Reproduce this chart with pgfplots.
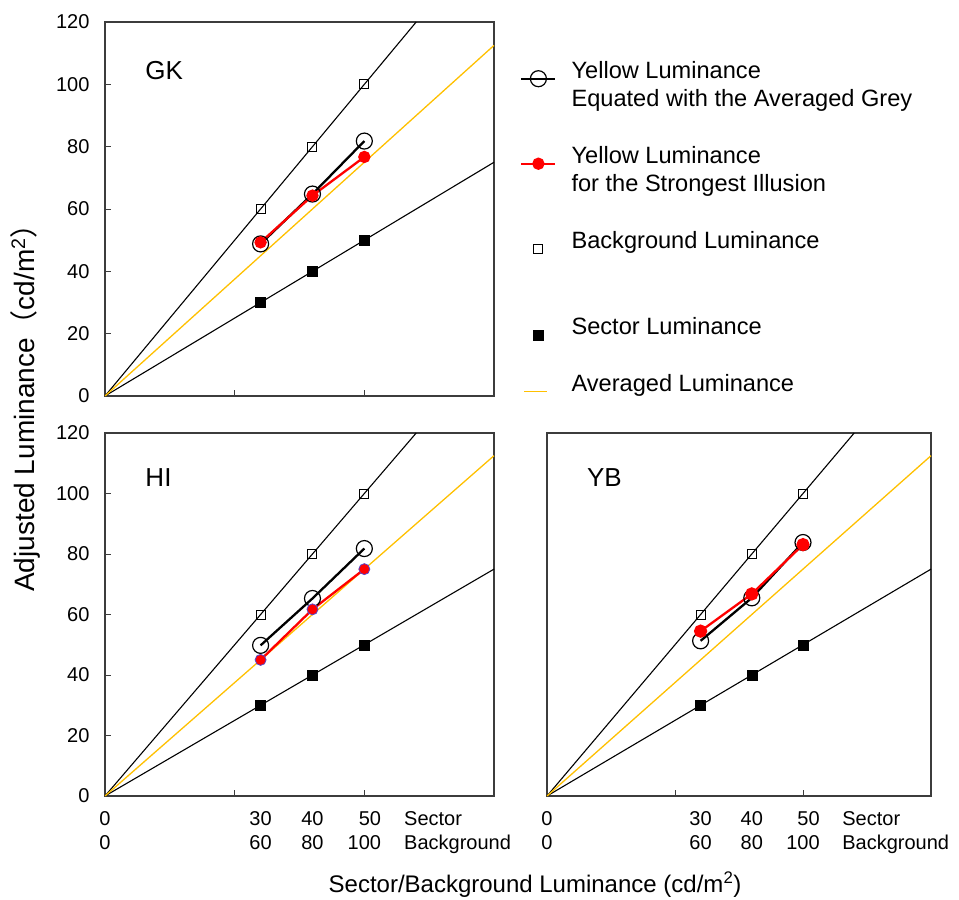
\documentclass[border=0pt]{standalone}
\usepackage{fontspec}
\setmainfont{Liberation Sans}
\newfontfamily\cjk{Noto Sans CJK SC}
\usepackage{pgfplots}
\pgfplotsset{compat=1.18}
\definecolor{avgY}{RGB}{255,192,0}
\definecolor{hiEdge}{RGB}{90,70,200}
\definecolor{axgray}{RGB}{60,60,60}

\pgfplotsset{
  panel/.style={
    scale only axis,
    xmin=0, xmax=75, ymin=0, ymax=120,
    axis line style={line width=1.2pt, axgray},
    tick style={axgray, line width=1pt},
    major tick length=6pt,
    tick align=inside,
    ytick={0,20,40,60,80,100,120},
    xtick={25,50,75}, xticklabels={},
    xtick pos=bottom, ytick pos=left,
    yticklabel style={font=\fontsize{20}{24}\selectfont, xshift=-12pt},
    /pgf/number format/assume math mode=true,
    clip=false,
    legend image code/.code={\draw[mark repeat=2,mark phase=2,##1] plot coordinates {(0pt,0pt)(17pt,0pt)(34pt,0pt)};},
  },
  xlabs/.style={
    extra x ticks={0,30,40,50},
    extra x tick labels={0\\0, 30\\60, 40\\80, 50\\100},
    extra x tick style={major tick length=0pt,
      tick label style={align=right, font=\fontsize{20}{24}\selectfont, yshift=-12pt}},
  },
  avglegend/.style={legend image code/.code={\draw[##1] (3pt,0pt) -- (26pt,0pt);}},
  refline/.style={black, line width=1.1pt, no marks, forget plot},
  avgline/.style={avgY, line width=1.3pt, no marks},
  eqser/.style={black, line width=2.3pt, mark=o, mark size=8pt, mark options={line width=1.2pt, fill=none}},
  redser/.style={red, line width=2.3pt, mark=*, mark size=5pt, mark options={fill=red, draw=red}},
  bgsq/.style={only marks, mark=square, mark size=4.5pt, mark options={black, line width=1pt, fill=none}},
  secsq/.style={only marks, mark=square*, mark size=5pt, mark options={black, fill=black}},
}

\newcommand{\sectorlabel}{\node[anchor=north west, align=left, font=\fontsize{20}{24}\selectfont, yshift=-12pt] at (rel axis cs:0.76,0) {Sector\\Background};}

\begin{document}
\begin{tikzpicture}
\path[use as bounding box] (0,0) rectangle (959pt,-900pt);

% ---------------- GK ----------------
\begin{axis}[panel, at={(105pt,-396pt)}, anchor=south west, width=389pt, height=374pt,
  legend style={at={(rel axis cs:1.067,0.900)}, anchor=north west, draw=none, fill=none,
    inner sep=0pt, row sep=0pt, column sep=13pt,
    font=\fontsize{23.6}{28}\selectfont, cells={anchor=base west}, nodes={text depth=}},
]
\addplot[refline] coordinates {(0,0) (60,120)};
\addplot[refline] coordinates {(0,0) (75,75)};
\addplot[eqser] coordinates {(30,48.8) (40,64.8) (50,81.8)};
\addlegendentry{\parbox[t][81pt][t]{390pt}{Yellow Luminance\\Equated with the Averaged Grey}}
\addplot[redser] coordinates {(30,49.3) (40,64.3) (50,76.7)};
\addlegendentry{\parbox[t][81pt][t]{390pt}{Yellow Luminance\\for the Strongest Illusion}}
\addplot[bgsq] coordinates {(30,60) (40,80) (50,100)};
\addlegendentry{\parbox[t][82pt][t]{390pt}{Background Luminance}}
\addplot[secsq] coordinates {(30,30) (40,40) (50,50)};
\addlegendentry{\parbox[t][53pt][t]{390pt}{Sector Luminance}}
\addplot[avgline, avglegend] coordinates {(0,0) (75,112.5)};
\addlegendentry{\parbox[t][28pt][t]{390pt}{Averaged Luminance}}
\node[anchor=west, font=\fontsize{26}{30}\selectfont] at (rel axis cs:0.095,0.87) {GK};
\end{axis}

% ---------------- HI ----------------
\begin{axis}[panel, xlabs, at={(105pt,-796pt)}, anchor=south west, width=389pt, height=363pt]
\addplot[refline] coordinates {(0,0) (60,120)};
\addplot[refline] coordinates {(0,0) (75,75)};
\addplot[avgline] coordinates {(0,0) (75,112.5)};
\addplot[bgsq] coordinates {(30,60) (40,80) (50,100)};
\addplot[secsq] coordinates {(30,30) (40,40) (50,50)};
\addplot[eqser] coordinates {(30,49.8) (40,65.3) (50,81.8)};
\addplot[redser, mark size=5.5pt, mark options={fill=red, draw=hiEdge, line width=0.8pt}] coordinates {(30,45.0) (40,61.7) (50,75.0)};
\node[anchor=west, font=\fontsize{26}{30}\selectfont] at (rel axis cs:0.095,0.876) {HI};
\sectorlabel
\end{axis}

% ---------------- YB ----------------
\begin{axis}[panel, xlabs, at={(547pt,-796pt)}, anchor=south west, width=384pt, height=363pt,
  ytick=\empty]
\addplot[refline] coordinates {(0,0) (60,120)};
\addplot[refline] coordinates {(0,0) (75,75)};
\addplot[avgline] coordinates {(0,0) (75,112.5)};
\addplot[bgsq] coordinates {(30,60) (40,80) (50,100)};
\addplot[secsq] coordinates {(30,30) (40,40) (50,50)};
\addplot[eqser] coordinates {(30,51.3) (40,65.5) (50,83.8)};
\addplot[redser, mark size=5.5pt] coordinates {(30,54.5) (40,66.8) (50,83.1)};
\node[anchor=west, font=\fontsize{26}{30}\selectfont] at (rel axis cs:0.095,0.876) {YB};
\sectorlabel
\end{axis}

\node[rotate=90, anchor=west, inner sep=0pt, font=\fontsize{28}{32}\selectfont] at (25pt,-592pt) {Adjusted Luminance{\cjk （}cd/m\textsuperscript{2}{\cjk ）}};
\node[font=\fontsize{24}{28}\selectfont] at (535pt,-885pt) {Sector/Background Luminance (cd/m\textsuperscript{2})};
\end{tikzpicture}
\end{document}
